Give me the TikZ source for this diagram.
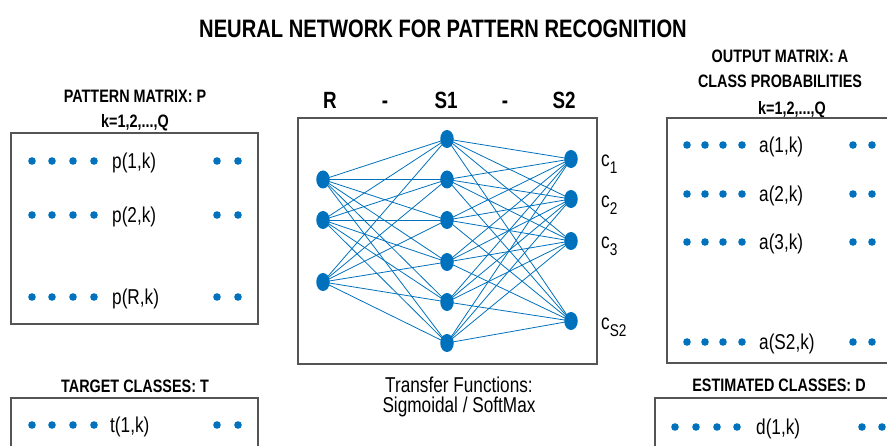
\documentclass[tikz,border=0pt]{standalone}
\usepackage{fontspec}
\setmainfont{Liberation Sans}[FakeStretch=0.8]
\usetikzlibrary{shapes.geometric}
\definecolor{mblue}{RGB}{0,114,189}
\definecolor{boxgray}{RGB}{85,85,85}
\newcommand{\mydotrow}[4]{%
  \foreach \xx [count=\ii] in {#3} \node[dotm] (#1l\ii) at (\xx,#2) {};
  \foreach \xx [count=\ii] in {#4} \node[dotm] (#1r\ii) at (\xx,#2) {};}
\begin{document}
\begin{tikzpicture}[x=1pt,y=-1pt,
  neuron/.style={ellipse, fill=mblue, draw=none, inner sep=0pt, minimum width=13.5pt, minimum height=18pt},
  dotm/.style={circle, fill=mblue, draw=none, inner sep=0pt, minimum size=7.6pt},
  link/.style={mblue, line width=0.8pt},
  framebox/.style={draw=boxgray, line width=1.1pt},
  ttl/.style={font=\fontsize{25.2}{28}\selectfont\bfseries, anchor=base, inner sep=0pt},
  boxttl/.style={font=\fontsize{18}{20}\selectfont\bfseries, anchor=base, inner sep=0pt},
  layerttl/.style={font=\fontsize{23.5}{26}\selectfont\bfseries, anchor=base, inner sep=0pt},
  entry/.style={font=\fontsize{21.5}{24}\selectfont, anchor=base west, inner sep=0pt},
  plain/.style={font=\fontsize{21.5}{24}\selectfont, anchor=base, inner sep=0pt},
  clabel/.style={font=\fontsize{21.5}{24}\selectfont, anchor=base west, inner sep=0pt}
]
\useasboundingbox (0,0) rectangle (887,446);
\clip (0,0) rectangle (887,446);
\fill[white] (0,0) rectangle (887,446);

% title
\node[ttl] (title) at (443,38) {NEURAL NETWORK FOR PATTERN RECOGNITION};

% ---------- pattern matrix ----------
\node[boxttl] (pttl) at (135,103) {PATTERN MATRIX: P};
\node[boxttl] (pk) at (135,128) {k=1,2,...,Q};
\draw[framebox] (11,133) rectangle (258,324);
\mydotrow{pa}{161}{32,52,73,94}{217,238}
\node[entry] (p1) at (112,169) {p(1,k)};
\mydotrow{pb}{215}{32,52,73,94}{217,238}
\node[entry] (p2) at (112,223) {p(2,k)};
\mydotrow{pc}{297}{32,52,73,94}{217,238}
\node[entry] (pR) at (112,305) {p(R,k)};

% ---------- target classes ----------
\node[boxttl] (tttl) at (135,393) {TARGET CLASSES: T};
\draw[framebox] (11,398) rectangle (258,470);
\mydotrow{ta}{425}{32,52,73,94}{217,238}
\node[entry] (t1) at (110,433) {t(1,k)};

% ---------- network ----------
\node[layerttl] (hR) at (330,109) {R};
\node[layerttl] (hd1) at (385,109) {-};
\node[layerttl] (hS1) at (446,109) {S1};
\node[layerttl] (hd2) at (505,109) {-};
\node[layerttl] (hS2) at (564,109) {S2};
\draw[framebox] (298,118) rectangle (597,364);

\foreach \yy [count=\i] in {179.5,220,282} \node[neuron] (r\i) at (323,\yy) {};
\foreach \yy [count=\i] in {139,179.5,220,262,302,343} \node[neuron] (h\i) at (447,\yy) {};
\foreach \yy [count=\i] in {159,199,241,321} \node[neuron] (o\i) at (571,\yy) {};
\foreach \i in {1,2,3} \foreach \j in {1,...,6} \draw[link] (r\i.center) -- (h\j.center);
\foreach \i in {1,...,6} \foreach \j in {1,...,4} \draw[link] (h\i.center) -- (o\j.center);

\node[clabel] (c1) at (601,167) {c\raisebox{-7pt}{\fontsize{17}{17}\selectfont 1}};
\node[clabel] (c2) at (601,208) {c\raisebox{-7pt}{\fontsize{17}{17}\selectfont 2}};
\node[clabel] (c3) at (601,249) {c\raisebox{-7pt}{\fontsize{17}{17}\selectfont 3}};
\node[clabel] (cS) at (601,330) {c\raisebox{-7pt}{\fontsize{17}{17}\selectfont S2}};

\node[plain] (tf1) at (459,393) {Transfer Functions:};
\node[plain] (tf2) at (459,413) {Sigmoidal / SoftMax};

% ---------- output matrix ----------
\node[boxttl] (ottl) at (780,63) {OUTPUT MATRIX: A};
\node[boxttl] (ocp) at (780,88) {CLASS PROBABILITIES};
\node[boxttl] (ok) at (792,115) {k=1,2,...,Q};
\draw[framebox] (667,118) rectangle (920,363);
\mydotrow{aa}{145}{687,705,723,742}{853,872}
\node[entry] (a1) at (759,153) {a(1,k)};
\mydotrow{ab}{194}{687,705,723,742}{853,872}
\node[entry] (a2) at (759,202) {a(2,k)};
\mydotrow{ac}{242}{687,705,723,742}{853,872}
\node[entry] (a3) at (759,250) {a(3,k)};
\mydotrow{ad}{342}{687,705,723,742}{853,872}
\node[entry] (aS) at (759,350) {a(S2,k)};

% ---------- estimated classes ----------
\node[boxttl] (dttl) at (779,392) {ESTIMATED CLASSES: D};
\draw[framebox] (655,398) rectangle (920,470);
\mydotrow{da}{427}{675,696,717,737}{862,882}
\node[entry] (d1) at (756,435) {d(1,k)};
\end{tikzpicture}
\end{document}
